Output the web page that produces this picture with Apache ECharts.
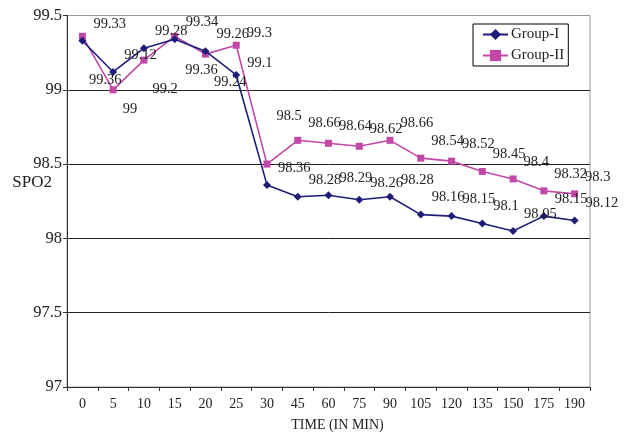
<!DOCTYPE html>
<html>
<head>
<meta charset="utf-8">
<script src="https://cdn.jsdelivr.net/npm/echarts@6/dist/echarts.min.js"></script>
<style>
html,body{margin:0;padding:0;background:#fff;}
#chart{width:624px;height:434px;}
</style>
</head>
<body>
<div id="chart"></div>
<script>
var categories = ['0','5','10','15','20','25','30','45','60','75','90','105','120','135','150','175','190'];
var groupI  = [99.33, 99.12, 99.28, 99.34, 99.26, 99.1, 98.36, 98.28, 98.29, 98.26, 98.28, 98.16, 98.15, 98.1, 98.05, 98.15, 98.12];
var groupII = [99.36, 99, 99.2, 99.36, 99.24, 99.3, 98.5, 98.66, 98.64, 98.62, 98.66, 98.54, 98.52, 98.45, 98.4, 98.32, 98.3];

// label placement styles (pixel offsets for data labels, not data)
var defaultShift = [0, -17];
var shiftI  = {5: [0, -12]};
var shiftII = {0: [-4, 44], 1: [-1, 19], 2: [-2, 29], 3: [0, 34], 4: [-2, 28], 5: [0, -12], 6: [-1, -48]};

var FONT = 'Liberation Serif';

function buildData(values, shifts) {
  return values.map(function (v, i) {
    return { value: v, label: { offset: shifts[i] || defaultShift } };
  });
}

var chart = echarts.init(document.getElementById('chart'));
var labelStyle = {
  show: true,
  position: 'right',
  distance: 7,
  offset: defaultShift,
  fontFamily: FONT,
  fontSize: 14.5,
  color: '#222'
};

chart.setOption({
  animation: false,
  textStyle: { fontFamily: FONT },
  grid: { left: 67, right: 34, top: 15.5, bottom: 47, outerBoundsMode: 'none', containLabel: false,
          show: true, borderColor: '#999', borderWidth: 1, backgroundColor: 'transparent' },
  legend: {
    orient: 'vertical',
    left: 473, top: 24,
    padding: [3, 4, 3, 9],
    itemWidth: 25, itemHeight: 14, itemGap: 6,
    backgroundColor: '#fff',
    borderColor: '#000', borderWidth: 1, borderRadius: 0,
    textStyle: { fontFamily: FONT, fontSize: 15, color: '#222', padding: [0,0,0,-2] },
    data: ['Group-I', 'Group-II']
  },
  xAxis: {
    type: 'category',
    data: categories,
    boundaryGap: true,
    name: 'TIME (IN MIN)',
    nameLocation: 'middle',
    nameGap: 31,
    nameTextStyle: { fontFamily: FONT, fontSize: 14, color: '#222', padding: [0, 0, 0, 18] },
    axisLine: { lineStyle: { color: '#333', width: 1 } },
    axisTick: { show: true, length: 4, lineStyle: { color: '#333' } },
    axisLabel: { fontFamily: FONT, fontSize: 14, color: '#222', margin: 10 }
  },
  yAxis: {
    type: 'value',
    min: 97, max: 99.5, interval: 0.5,
    name: 'SPO2',
    nameLocation: 'middle',
    nameRotate: 0,
    nameGap: 15,
    nameMoveOverlap: false,
    nameTextStyle: { fontFamily: FONT, fontSize: 17, color: '#222', align: 'right', verticalAlign: 'bottom', lineHeight: 38 },
    axisLine: { show: true, lineStyle: { color: '#333', width: 1 } },
    axisTick: { show: true, length: 4, lineStyle: { color: '#333' } },
    axisLabel: { fontFamily: FONT, fontSize: 16.5, color: '#222', margin: 5 },
    splitLine: { show: true, lineStyle: { color: ['#222', '#222', '#222', '#222', '#222', '#999'], width: 1 } }
  },
  series: [
    {
      name: 'Group-I',
      type: 'line',
      data: buildData(groupI, shiftI),
      symbol: 'diamond',
      symbolSize: 8,
      color: '#1e1e78',
      lineStyle: { color: '#1e1e78', width: 1.6 },
      itemStyle: { color: '#1e1e78' },
      label: labelStyle,
      z: 3
    },
    {
      name: 'Group-II',
      type: 'line',
      data: buildData(groupII, shiftII),
      symbol: 'rect',
      symbolSize: 7,
      color: '#c248a8',
      lineStyle: { color: '#c248a8', width: 1.6 },
      itemStyle: { color: '#c248a8' },
      label: labelStyle,
      z: 2
    }
  ]
});
</script>
</body>
</html>
